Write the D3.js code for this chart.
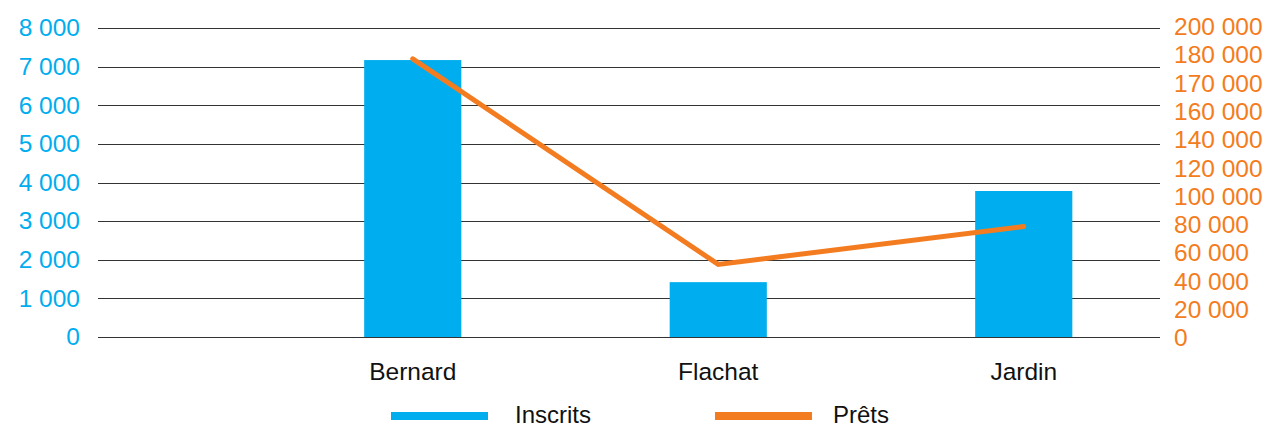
<!DOCTYPE html>
<html><head><meta charset="utf-8">
<script src="https://cdn.jsdelivr.net/npm/d3@7"></script>
<style>
body{margin:0;background:#fff;}
svg{display:block;font-family:"Liberation Sans",Arial,sans-serif;}
</style></head>
<body><svg id="c" width="1268" height="425"></svg>
<script>
const categories = ["Bernard", "Flachat", "Jardin"];
const inscrits = [7170, 1420, 3780];
const prets = [180000, 47000, 71500];
const leftTicks = [0, 1000, 2000, 3000, 4000, 5000, 6000, 7000, 8000];
const rightTickLabels = ["0", "20 000", "40 000", "60 000", "80 000", "100 000", "120 000", "140 000", "160 000", "170 000", "180 000", "200 000"];
const seriesNames = ["Inscrits", "Prêts"];

const blue = "#00ADEE", orange = "#F47C20";
const svg = d3.select("#c");
const gridX0 = 98, gridX1 = 1160, yBottom = 337, yTop = 28;

const fmt = d3.formatLocale({decimal: ",", thousands: " ", grouping: [3], currency: ["", "€"]}).format(",");

const x = d3.scaleBand().domain(categories).range([260, 1176.5]).paddingInner(0.682).paddingOuter(0.341);
const yL = d3.scaleLinear().domain([0, 8000]).range([yBottom, yTop]);
const yR = d3.scaleLinear().domain([0, 200000]).range([yBottom, yTop]);
const yRLabels = d3.scalePoint().domain(rightTickLabels).range([338, 26.7]);

// gridlines
svg.append("g").selectAll("line").data(leftTicks).join("line")
  .attr("x1", gridX0).attr("x2", gridX1)
  .attr("y1", d => Math.round(yL(d)) + 0.5).attr("y2", d => Math.round(yL(d)) + 0.5)
  .attr("stroke", "#333").attr("stroke-width", 1);

// left axis
const gL = svg.append("g").attr("transform", "translate(80,0)")
  .call(d3.axisLeft(yL).tickValues(leftTicks).tickFormat(fmt).tickSize(0).tickPadding(0));
gL.select(".domain").remove();
gL.selectAll("text").attr("fill", blue).style("font-size", "24.5px").attr("font-family", "Liberation Sans, Arial, sans-serif");

// right axis
const gR = svg.append("g").attr("transform", "translate(1174,0)")
  .call(d3.axisRight(yRLabels).tickSize(0).tickPadding(0));
gR.select(".domain").remove();
gR.selectAll("text").attr("fill", orange).style("font-size", "24.5px").attr("font-family", "Liberation Sans, Arial, sans-serif");

// bars
svg.append("g").selectAll("rect").data(categories).join("rect")
  .attr("x", d => x(d)).attr("width", x.bandwidth())
  .attr("y", (d, i) => yL(inscrits[i])).attr("height", (d, i) => yBottom - yL(inscrits[i]))
  .attr("fill", blue);

// line
const line = d3.line().x((d, i) => x(categories[i]) + x.bandwidth() / 2).y(d => yR(d));
svg.append("path").datum(prets).attr("d", line)
  .attr("fill", "none").attr("stroke", orange).attr("stroke-width", 5)
  .attr("stroke-linecap", "round").attr("stroke-linejoin", "miter");

// x axis labels
const gX = svg.append("g").attr("transform", "translate(0,380)")
  .call(d3.axisBottom(x).tickSize(0).tickPadding(0));
gX.select(".domain").remove();
gX.selectAll("text").attr("dy", 0).attr("fill", "#111").style("font-size", "24.5px").attr("font-family", "Liberation Sans, Arial, sans-serif");

// legend
const legend = svg.append("g");
const legX = [391, 715];
const legTextX = [515, 833];
const legColors = [blue, orange];
seriesNames.forEach((n, i) => {
  legend.append("rect").attr("x", legX[i]).attr("y", 412).attr("width", 97).attr("height", 8).attr("fill", legColors[i]);
  legend.append("text").attr("x", legTextX[i]).attr("y", 423).text(n)
    .attr("fill", "#111").style("font-size", "24px");
});
</script></body></html>
